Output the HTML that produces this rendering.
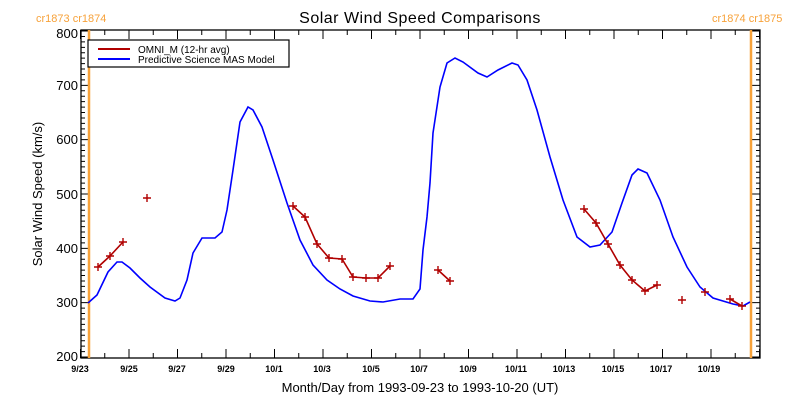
<!DOCTYPE html>
<html><head><meta charset="utf-8"><style>body{margin:0;background:#fff}svg{display:block}</style></head><body>
<svg width="800" height="400" xmlns="http://www.w3.org/2000/svg" font-family="Liberation Sans, sans-serif">
<rect width="800" height="400" fill="#fff"/>
<text x="420" y="23" font-size="16" text-anchor="middle" letter-spacing="0.5">Solar Wind Speed Comparisons</text>
<text x="36" y="22" font-size="11" fill="#f7a23a">cr1873 cr1874</text>
<text x="712" y="22" font-size="11" fill="#f7a23a">cr1874 cr1875</text>
<g stroke="#000" stroke-width="1.3" fill="none">
<rect x="81" y="30" width="679" height="328"/>
</g>
<g id="ticks" stroke="#000" stroke-width="1"></g>
<g font-size="13" text-anchor="end">
<text x="78" y="38">800</text><text x="78" y="90">700</text><text x="78" y="144">600</text><text x="78" y="199">500</text><text x="78" y="253">400</text><text x="78" y="307">300</text><text x="78" y="361">200</text>
</g>
<g font-size="9" text-anchor="middle" font-weight="bold">
<text x="80" y="372">9/23</text><text x="129" y="372">9/25</text><text x="177" y="372">9/27</text><text x="226" y="372">9/29</text><text x="274" y="372">10/1</text><text x="322" y="372">10/3</text><text x="371" y="372">10/5</text><text x="419" y="372">10/7</text><text x="468" y="372">10/9</text><text x="516" y="372">10/11</text><text x="564" y="372">10/13</text><text x="613" y="372">10/15</text><text x="661" y="372">10/17</text><text x="709" y="372">10/19</text>
</g>
<text x="420" y="392" font-size="13" text-anchor="middle">Month/Day from 1993-09-23 to 1993-10-20 (UT)</text>
<text transform="translate(42,194) rotate(-90)" font-size="13" text-anchor="middle">Solar Wind Speed (km/s)</text>
<line x1="89" y1="30" x2="89" y2="358" stroke="#f7a23a" stroke-width="2.5"/>
<line x1="751" y1="30" x2="751" y2="358" stroke="#f7a23a" stroke-width="2.5"/>
<polyline fill="none" stroke="#0000ff" stroke-width="1.6" points="88,303 97,295 108,272 117,262 122,262 130,268 140,278 150,287 165,298 175,301 180,298 187,280 193,253 202,238 215,238 222,232 227,210 233,170 240,122 248,107 253,110 262,127 273,160 287,203 300,240 313,265 327,280 340,289 353,296 370,301 383,302 400,299 413,299 420,289 423,250 427,217 430,183 433,133 440,87 447,63 455,58 463,62 478,73 487,77 498,70 512,63 518,65 527,80 537,110 550,157 563,200 577,237 590,247 600,245 612,232 622,203 632,175 638,169 647,173 660,200 673,237 687,267 700,287 713,298 733,304 743,306 750,302"/>
<g fill="none" stroke="#b00000" stroke-width="1.6">
<polyline points="98,267 110,256 123,242"/>
<polyline points="293,206 305,217 317,244 329,258 342,259 353,277 366,278 378,278 390,266"/>
<polyline points="438,270 450,281"/>
<polyline points="584,209 596,223 608,244 620,265 632,280 645,291 657,285"/>
<polyline points="730,299 742,306"/>
</g>
<g stroke="#b00000" stroke-width="1.4" id="pl"></g>
<rect x="88" y="40" width="201" height="27" fill="#fff" stroke="#000" stroke-width="1.2"/>
<line x1="98" y1="49" x2="130" y2="49" stroke="#b00000" stroke-width="2"/>
<line x1="98" y1="59" x2="130" y2="59" stroke="#0000ff" stroke-width="2"/>
<text x="138" y="53" font-size="10">OMNI_M (12-hr avg)</text>
<text x="138" y="63" font-size="10">Predictive Science MAS Model</text>
<script>
var ns="http://www.w3.org/2000/svg",g=document.getElementById("ticks"),s="";
for(var v=200;v<=800;v+=10){var y=357-(v-200)*0.5433,L=(v%100==0)?9:4;s+="M81 "+y+"h"+L+"M760 "+y+"h-"+L;}
for(var d=0;d<=28;d++){var x=80.5+d*24.25,L=(d%2==0)?9:5;s+="M"+x+" 358v-"+L+"M"+x+" 30v"+L;}
var p=document.createElementNS(ns,"path");p.setAttribute("d",s);g.appendChild(p);
var pts=[[98,267],[110,256],[123,242],[147,198],[293,206],[305,217],[317,244],[329,258],[342,259],[353,277],[366,278],[378,278],[390,266],[438,270],[450,281],[584,209],[596,223],[608,244],[620,265],[632,280],[645,291],[657,285],[682,300],[705,292],[730,299],[742,306]],q="";
pts.forEach(function(a){q+="M"+(a[0]-4)+" "+a[1]+"h8M"+a[0]+" "+(a[1]-4)+"v8";});
var p2=document.createElementNS(ns,"path");p2.setAttribute("d",q);document.getElementById("pl").appendChild(p2);
</script>
</svg>
</body></html>
